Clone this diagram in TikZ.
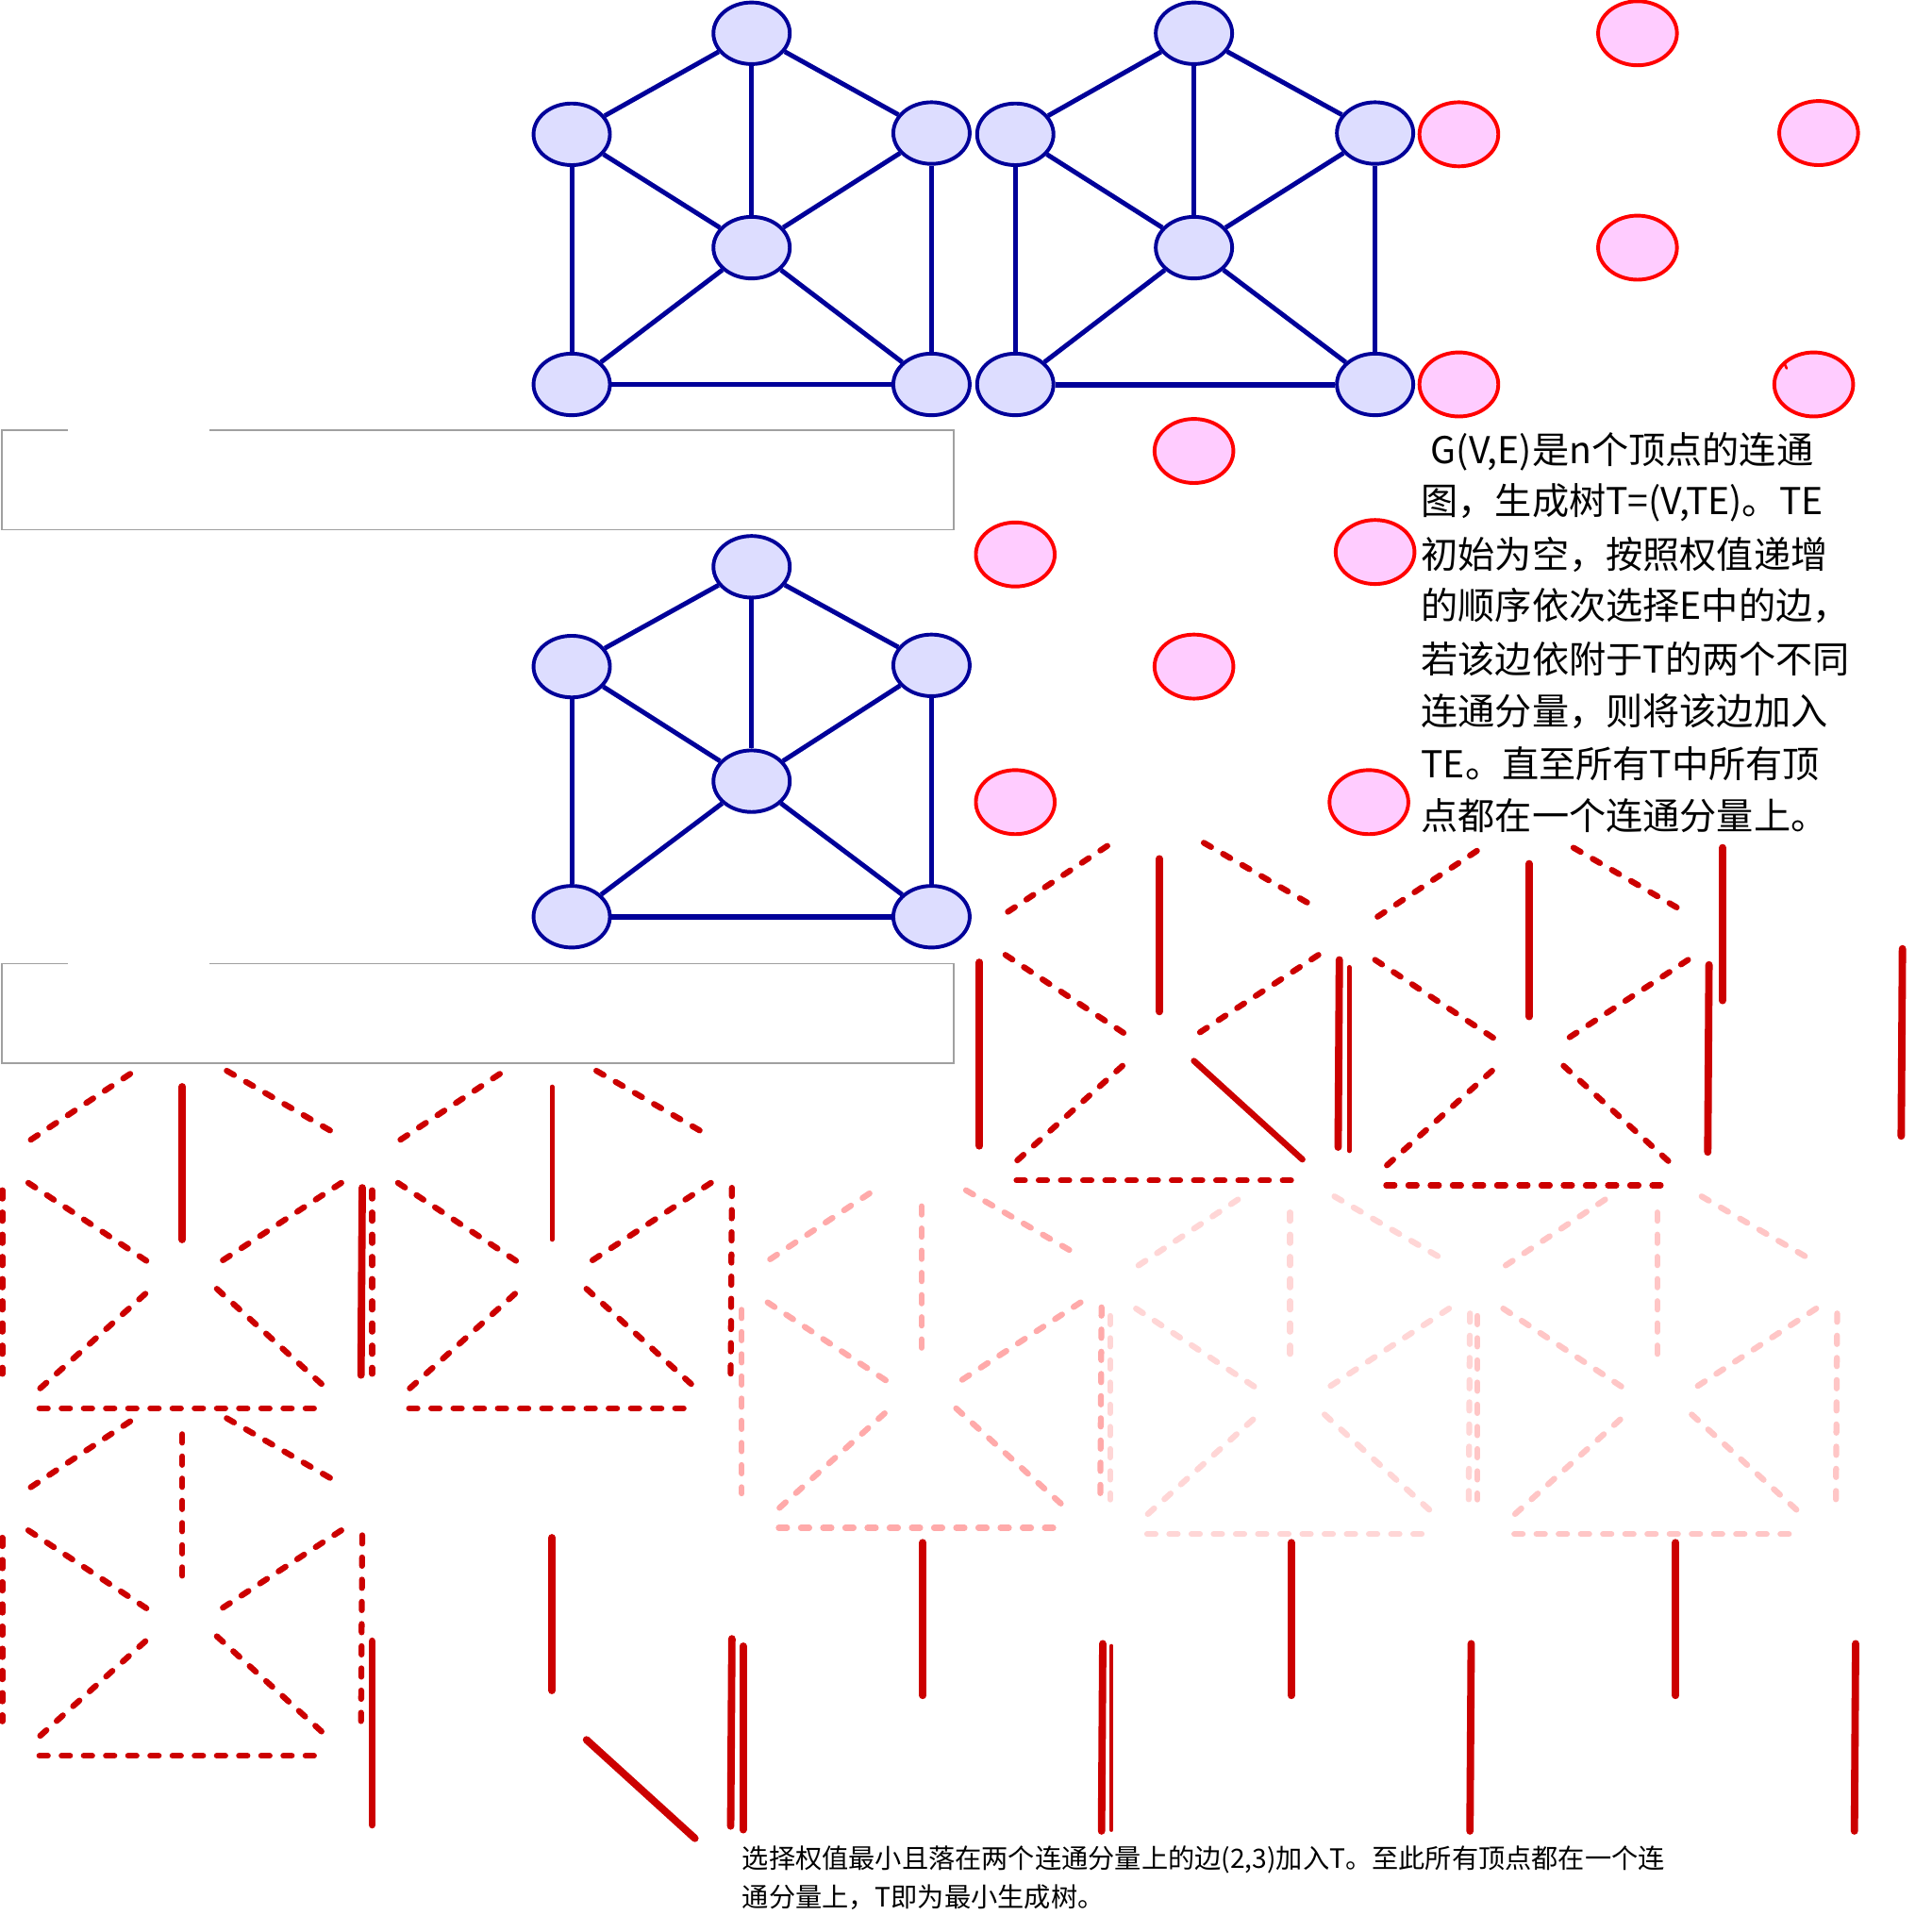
\documentclass[tikz,border=0pt]{standalone}
\usepackage{fontspec}
\newfontfamily\cjk{Noto Sans CJK SC}
\usetikzlibrary{shapes.geometric}
\definecolor{bedge}{HTML}{000099}
\definecolor{bfill}{HTML}{DDDDFF}
\definecolor{pfill}{HTML}{FFCCFF}
\definecolor{pdraw}{HTML}{FF0000}
\definecolor{rdark}{HTML}{CC0000}
\definecolor{pinkA}{HTML}{FFAAAA}
\definecolor{pinkB}{HTML}{FFD6D6}
\definecolor{pinkC}{HTML}{FFC6C6}
\definecolor{gframe}{HTML}{A0A0A0}
\tikzset{
  bnode/.style={ellipse, draw=bedge, fill=bfill, line width=1.5pt, minimum width=31pt, minimum height=25pt, inner sep=0pt},
  pnode/.style={ellipse, draw=pdraw, fill=pfill, line width=1.5pt, minimum width=32pt, minimum height=26pt, inner sep=0pt},
  bline/.style={draw=bedge, line width=1.9pt},
  bthick/.style={draw=bedge, line width=2.3pt},
  rd/.style={draw=rdark, line width=2.4pt, line cap=round, dash pattern=on 3.4pt off 5.6pt},
  rs/.style={draw=rdark, line width=3pt, line cap=round},
  rsm/.style={draw=rdark, line width=2.5pt, line cap=round},
  rst/.style={draw=rdark, line width=1.8pt, line cap=round},
  pda/.style={draw=pinkA, line width=2.4pt, line cap=round, dash pattern=on 3.4pt off 5.6pt},
  pdb/.style={draw=pinkB, line width=2.4pt, line cap=round, dash pattern=on 3.4pt off 5.6pt},
  pdc/.style={draw=pinkC, line width=2.4pt, line cap=round, dash pattern=on 3.4pt off 5.6pt},
  gbox/.style={draw=gframe, line width=0.6pt},
  desc/.style={anchor=base west, inner sep=0pt, font=\cjk\fontsize{15pt}{21pt}\selectfont},
  note/.style={anchor=base west, inner sep=0pt, font=\cjk\fontsize{10.8pt}{16pt}\selectfont}
}
\newcommand\skTL{(25,57)--(111,0)}
\newcommand\skTV{(148,14)--(148,138)}
\newcommand\skTR{(184,1)--(274,53)}
\newcommand\skLC{(23,92)--(120,156)}
\newcommand\skRC{(277,92)--(176,158)}
\newcommand\skCBL{(118,182)--(29,262)}
\newcommand\skCBR{(176,178)--(264,258)}
\newcommand\skBOT{(32,275)--(264,275)}
\newcommand\skLV{(2,98)--(2,247)}
\newcommand\skRV{(294,96)--(293,248)}
\newcommand\skall[1]{\draw[#1] \skTL; \draw[#1] \skTV; \draw[#1] \skTR; \draw[#1] \skLC; \draw[#1] \skRC; \draw[#1] \skCBL; \draw[#1] \skCBR; \draw[#1] \skBOT;}
\begin{document}
\begin{tikzpicture}[x=0.5pt,y=-0.5pt]
\useasboundingbox (0,0) rectangle (1568,1568);
\fill[white] (0,0) rectangle (1568,1568);

% gray frames
\draw[gbox] (55,349) -- (1.5,349) -- (1.5,430) -- (774,430) -- (774,349) -- (170,349);
\draw[gbox] (55,782) -- (1.5,782) -- (1.5,863) -- (774,863) -- (774,782) -- (170,782);

% graph A
\node[bnode] (a1) at (610,27) {};
\node[bnode] (a2) at (464,109) {};
\node[bnode] (a3) at (756,108) {};
\node[bnode] (a4) at (610,201) {};
\node[bnode] (a5) at (464,312) {};
\node[bnode] (a6) at (756,312) {};
% graph B
\node[bnode] (b1) at (969,27) {};
\node[bnode] (b2) at (824,109) {};
\node[bnode] (b3) at (1116,108) {};
\node[bnode] (b4) at (969,201) {};
\node[bnode] (b5) at (824,312) {};
\node[bnode] (b6) at (1116,312) {};
% graph C
\node[bnode] (c1) at (610,460) {};
\node[bnode] (c2) at (464,541) {};
\node[bnode] (c3) at (756,540) {};
\node[bnode] (c4) at (610,634) {};
\node[bnode] (c5) at (464,744) {};
\node[bnode] (c6) at (756,744) {};

\foreach \g in {a,b,c}{
  \draw[bline] (\g1) -- (\g2);
  \draw[bline] (\g1) -- (\g3);
  \draw[bline] (\g1) -- (\g4);
  \draw[bline] (\g2) -- (\g4);
  \draw[bline] (\g3) -- (\g4);
  \draw[bline] (\g2) -- (\g5);
  \draw[bline] (\g3) -- (\g6);
  \draw[bline] (\g4) -- (\g5);
  \draw[bline] (\g4) -- (\g6);
}
\draw[bline] (a5) -- (a6);
\draw[bthick] (b5) -- (b6);
\draw[bthick] (c5) -- (c6);

% pink nodes
\node[pnode] (p1) at (1329,27) {};
\node[pnode] (p2) at (1184,109) {};
\node[pnode] (p3) at (1476,108) {};
\node[pnode] (p4) at (1329,201) {};
\node[pnode] (p5) at (1184,312) {};
\node[pnode] (p6) at (1472,312) {};
\node[pnode] (p7) at (969,366) {};
\node[pnode] (p8) at (824,450) {};
\node[pnode] (p9) at (1116,448) {};
\node[pnode] (p10) at (969,541) {};
\node[pnode] (p11) at (824,651) {};
\node[pnode] (p12) at (1111,651) {};
\draw[pdraw, line width=1pt, line cap=round] (1448.5,295.5) -- (1450,299);

% description text
\node[desc] (t1) at (1161,376) {G(V,E)是n个顶点的连通};
\node[desc] (t2) at (1153,418) {图，生成树T=(V,TE)。TE};
\node[desc] (t3) at (1153,461) {初始为空，按照权值递增};
\node[desc] (t4) at (1153,503) {的顺序依次选择E中的边，};
\node[desc] (t5) at (1153,546) {若该边依附于T的两个不同};
\node[desc] (t6) at (1153,588) {连通分量，则将该边加入};
\node[desc] (t7) at (1153,631) {TE。直至所有T中所有顶};
\node[desc] (t8) at (1153,673) {点都在一个连通分量上。};

% light pink skeletons
\begin{scope}[shift={(600,965)}]
  \skall{pda} \draw[pda] \skLV; \draw[pda] \skRV;
\end{scope}
\begin{scope}[shift={(899,970)}]
  \skall{pdb} \draw[pdb] \skLV; \draw[pdb] \skRV;
\end{scope}
\begin{scope}[shift={(1197,970)}]
  \skall{pdc} \draw[pdc] \skLV; \draw[pdc] \skRV;
\end{scope}

% red skeletons
\begin{scope}[shift={(793,683)}]
  \draw[rd] \skTL; \draw[rs] \skTV; \draw[rd] \skTR; \draw[rd] \skLC; \draw[rd] \skRC;
  \draw[rd] \skCBL; \draw[rsm] \skCBR; \draw[rd] \skBOT; \draw[rs] \skLV; \draw[rs] \skRV;
\end{scope}
\begin{scope}[shift={(1093,687)}]
  \draw[rd] \skTL; \draw[rs] \skTV; \draw[rd] \skTR; \draw[rd] \skLC; \draw[rd] \skRC;
  \draw[rd] \skCBL; \draw[rd] \skCBR; \draw[rd] \skBOT; \draw[rst] \skLV; \draw[rs] \skRV;
\end{scope}
\begin{scope}[shift={(1250,674)}]
  \draw[rs] \skTV; \draw[rs] \skRV;
\end{scope}
\begin{scope}[shift={(0,868)}]
  \draw[rd] \skTL; \draw[rs] \skTV; \draw[rd] \skTR; \draw[rd] \skLC; \draw[rd] \skRC;
  \draw[rd] \skCBL; \draw[rd] \skCBR; \draw[rd] \skBOT; \draw[rd] \skLV; \draw[rs] \skRV;
\end{scope}
\begin{scope}[shift={(300,868)}]
  \draw[rd] \skTL; \draw[rst] \skTV; \draw[rd] \skTR; \draw[rd] \skLC; \draw[rd] \skRC;
  \draw[rd] \skCBL; \draw[rd] \skCBR; \draw[rd] \skBOT; \draw[rd] \skLV; \draw[rd] \skRV;
\end{scope}
\begin{scope}[shift={(0,1150)}]
  \skall{rd} \draw[rd] \skLV; \draw[rd] \skRV;
\end{scope}
\begin{scope}[shift={(300,1234)}]
  \draw[rs] \skTV; \draw[rs] \skCBR; \draw[rs] \skLV; \draw[rs] \skRV;
\end{scope}
\begin{scope}[shift={(601,1238)}]
  \draw[rs] \skTV; \draw[rs] \skLV; \draw[rs] \skRV;
\end{scope}
\begin{scope}[shift={(900,1238)}]
  \draw[rst] \skLV; \draw[rs] \skTV; \draw[rs] \skRV;
\end{scope}
\begin{scope}[shift={(1212,1238)}]
  \draw[rs] \skTV; \draw[rs] \skRV;
\end{scope}

% bottom note
\node[note] (n1) at (602,1516) {选择权值最小且落在两个连通分量上的边(2,3)加入T。至此所有顶点都在一个连};
\node[note] (n2) at (602,1548) {通分量上，T即为最小生成树。};
\end{tikzpicture}
\end{document}
